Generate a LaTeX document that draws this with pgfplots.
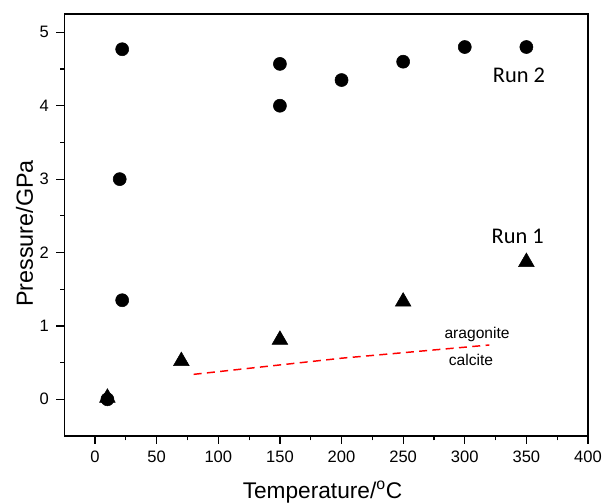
\documentclass[border=0pt]{standalone}
\usepackage{pgfplots}
\pgfplotsset{compat=1.18}
\usepackage{fontspec}
\setmainfont{Liberation Sans}
\newfontfamily\calibri{Carlito}

\begin{document}
\begin{tikzpicture}
% frame of the picture: 604 x 503 px at 0.75pt per px
\path[use as bounding box] (0pt,0pt) rectangle (453pt,377.25pt);
\begin{axis}[
    at={(48.2pt,50.25pt)}, anchor=south west,
    scale only axis,
    width=392.8pt, height=316.5pt,
    xmin=-25, xmax=400,
    ymin=-0.5, ymax=5.25,
    xtick={0,50,...,400},
    ytick={0,1,2,3,4,5},
    minor x tick num=1,
    minor y tick num=1,
    xtick pos=bottom, ytick pos=left,
    tick align=outside,
    major tick length=6pt,
    minor tick length=3.2pt,
    every tick/.style={black, line width=0.9pt},
    axis line style={line width=1.1pt},
    /pgf/number format/assume math mode=true,
    ticklabel style={font=\fontsize{12.4}{14}\selectfont},
    xticklabel style={yshift=-2pt},
    yticklabel style={xshift=-2pt},
    xlabel={Temperature/\textsuperscript{o}C},
    ylabel={Pressure/GPa},
    xlabel style={font=\fontsize{17}{20}\selectfont,
        at={(axis description cs:0.493,-0.147)}, anchor=base},
    ylabel style={font=\fontsize{17.5}{20}\selectfont,
        at={(axis description cs:-0.0598,0.48)}, anchor=base, rotate=0},
    clip=false,
]
% Run 2
\addplot[only marks, mark=*, mark size=4.9pt, black] coordinates {
    (10,0) (20,3.0) (22,4.77) (22,1.35)
    (150,4.0) (150,4.57) (200,4.35) (250,4.6) (300,4.8) (350,4.8)
};
% Run 1
\addplot[only marks, mark=triangle*, mark size=6.8pt, black] coordinates {
    (10,0.02) (70,0.52) (150,0.81) (250,1.33) (350,1.87)
};
% aragonite-calcite boundary
\addplot[red, line width=1.1pt, dash pattern=on 6pt off 4pt] coordinates {
    (80,0.34) (200,0.56) (320,0.74)
};
\node[font=\fontsize{11.7}{13}\selectfont] at (axis cs:310,0.89) {aragonite};
\node[font=\fontsize{11.7}{13}\selectfont] at (axis cs:305,0.54) {calcite};
\node[font=\calibri\fontsize{16.8}{19}\selectfont] at (axis cs:344,4.41) {Run 2};
\node[font=\calibri\fontsize{16.8}{19}\selectfont] at (axis cs:343,2.22) {Run 1};
\end{axis}
\end{tikzpicture}
\end{document}
